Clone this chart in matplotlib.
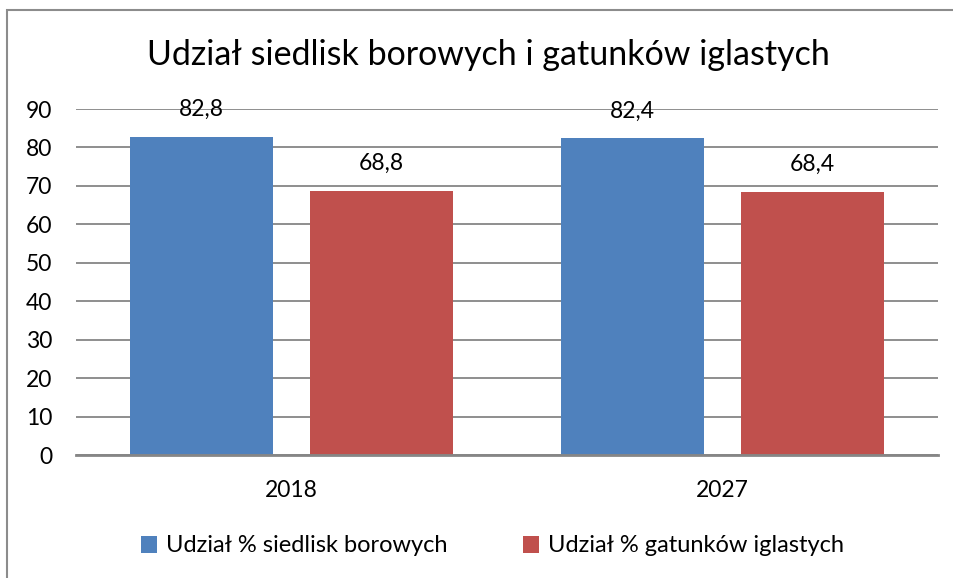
import numpy as np
import matplotlib.pyplot as plt
from matplotlib.patches import Rectangle

plt.rcParams['font.family'] = ['Lato', 'DejaVu Sans']

years = ['2018', '2027']
siedliska = [82.8, 82.4]
gatunki = [68.8, 68.4]
series_names = ['Udział % siedlisk borowych', 'Udział % gatunków iglastych']

blue = '#4F81BD'
red = '#C0504D'
grid_c = '#868686'

fig = plt.figure(figsize=(9.54, 5.78), dpi=100)
ax = fig.add_axes([76 / 954, 1 - 455 / 578, (938 - 76) / 954, (455 - 109) / 578])

x = np.arange(len(years))
w = 0.332
off = 0.209
b1 = ax.bar(x - off, siedliska, w, color=blue, label=series_names[0], zorder=3)
b2 = ax.bar(x + off, gatunki, w, color=red, label=series_names[1], zorder=3)

for bars, vals in [(b1, siedliska), (b2, gatunki)]:
    for b, v in zip(bars, vals):
        ax.text(b.get_x() + b.get_width() / 2, v + 7.1, f'{v:.1f}'.replace('.', ','),
                ha='center', va='center', fontsize=16.5, zorder=4)

ax.set_xlim(-0.5, 1.5)
ax.set_ylim(0, 90)
ax.set_yticks(range(0, 91, 10))
ax.set_xticks(x)
ax.set_xticklabels(years)
ax.tick_params(axis='both', length=0, labelsize=16.5)
ax.tick_params(axis='y', pad=17)
ax.tick_params(axis='x', pad=18)
ax.yaxis.grid(True, color=grid_c, linewidth=1.3, zorder=0)
for s in ['left', 'right', 'top']:
    ax.spines[s].set_visible(False)
ax.spines['bottom'].set_color(grid_c)
ax.spines['bottom'].set_linewidth(2)
ax.spines['bottom'].set_zorder(5)

fig.text(488 / 954, 1 - 55 / 578, 'Udział siedlisk borowych i gatunków iglastych',
         ha='center', va='center', fontsize=24.5)

fig.legend(handles=[b1, b2], loc='center', bbox_to_anchor=(0.516, 1 - 546 / 578),
           ncol=2, frameon=False, fontsize=17, handlelength=0.7, handleheight=0.7,
           handletextpad=0.35, columnspacing=3.2)

fig.add_artist(Rectangle((7 / 954, -0.1), 1.2, 1 - 10 / 578 + 0.1,
                         transform=fig.transFigure, fill=False,
                         edgecolor='#8c8c8c', linewidth=1.5))

fig.savefig('out.png', dpi=100)
